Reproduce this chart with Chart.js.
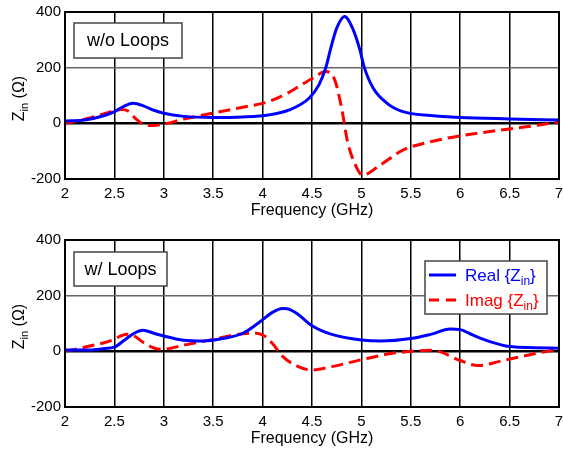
<!DOCTYPE html>
<html>
<head>
<meta charset="utf-8">
<script src="https://cdn.jsdelivr.net/npm/chart.js@4.4.1/dist/chart.umd.min.js"></script>
<style>
  html, body { margin: 0; padding: 0; background: #fff; }
  #wrap { position: relative; width: 563px; height: 451px; }
  canvas { position: absolute; left: 0; }
  #topChart { top: 0; }
  #botChart { top: 228px; }
</style>
</head>
<body>
<div id="wrap">
  <canvas id="topChart" width="563" height="223"></canvas>
  <canvas id="botChart" width="563" height="223"></canvas>
</div>
<script>
// Input impedance vs frequency, antenna without loops (top) and with loops (bottom)
const xTicks = [2, 2.5, 3, 3.5, 4, 4.5, 5, 5.5, 6, 6.5, 7];
const yTicks = [-200, 0, 200, 400];

// w/o Loops
const realTopFreq = [2, 2.2, 2.4, 2.5, 2.6, 2.69, 2.8, 2.9, 3.0, 3.2, 3.5, 3.8, 4.06, 4.27, 4.47, 4.57, 4.64, 4.69, 4.75, 4.83, 4.91, 4.98, 5.03, 5.12, 5.26, 5.42, 5.7, 6.0, 6.5, 7.0];
const realTop     = [8, 12, 28, 42, 62, 72, 62, 47, 36, 25, 21, 23, 30, 48, 90, 138, 200, 270, 342, 384, 342, 270, 200, 126, 72, 42, 28, 21, 16, 12];
const imagTopFreq = [2, 2.2, 2.4, 2.5, 2.57, 2.64, 2.72, 2.8, 2.88, 3.0, 3.2, 3.5, 3.8, 4.06, 4.25, 4.4, 4.52, 4.64, 4.73, 4.8, 4.86, 4.94, 5.01, 5.19, 5.42, 5.7, 6.0, 6.5, 6.8, 7.0];
const imagTop     = [0, 15, 35, 45, 50, 44, 15, -4, -8, -3, 15, 37, 58, 78, 108, 140, 165, 186, 156, 54, -66, -150, -186, -150, -96, -66, -45, -20, -6, 5];

// w/ Loops
const realBotFreq = [2, 2.25, 2.4, 2.5, 2.6, 2.7, 2.79, 2.9, 3.0, 3.2, 3.4, 3.6, 3.8, 3.95, 4.1, 4.2, 4.25, 4.35, 4.5, 4.7, 5.0, 5.2, 5.5, 5.7, 5.9, 6.0, 6.13, 6.3, 6.5, 6.75, 7.0];
const realBot     = [5, 5, 10, 15, 40, 65, 76, 65, 55, 40, 37, 46, 65, 100, 140, 154, 153, 135, 92, 61, 41, 37, 46, 61, 80, 78, 58, 35, 17, 13, 11];
const imagBotFreq = [2, 2.25, 2.5, 2.56, 2.63, 2.69, 2.8, 2.9, 2.98, 3.2, 3.5, 3.7, 3.82, 3.92, 4.02, 4.1, 4.2, 4.35, 4.5, 4.7, 5.0, 5.3, 5.5, 5.7, 5.8, 6.0, 6.18, 6.4, 6.5, 6.75, 7.0];
const imagBot     = [0, 19, 43, 55, 61, 57, 30, 12, 7, 22, 43, 58, 64, 66, 55, 28, -17, -53, -67, -55, -30, -8, 0, 4, -2, -33, -51, -36, -28, -9, 8];

const FONT = 'Arial, "Liberation Sans", Helvetica, sans-serif';
const BLUE = '#0000ff';
const RED = '#ff0000';

function pts(xs, ys) {
    return xs.map((x, i) => ({ x: x, y: ys[i] }));
}

// text with a subscript, e.g. Z_in ; returns width
function drawSub(ctx, x, y, base, sub, tail, size, subSize, measureOnly) {
    ctx.font = size + 'px ' + FONT;
    const w1 = ctx.measureText(base).width;
    const w3 = ctx.measureText(tail).width;
    ctx.font = subSize + 'px ' + FONT;
    const w2 = ctx.measureText(sub).width;
    if (!measureOnly) {
        ctx.textBaseline = 'alphabetic';
        ctx.textAlign = 'left';
        ctx.font = size + 'px ' + FONT;
        ctx.fillText(base, x, y);
        ctx.font = subSize + 'px ' + FONT;
        ctx.fillText(sub, x + w1, y + size * 0.22);
        ctx.font = size + 'px ' + FONT;
        ctx.fillText(tail, x + w1 + w2, y);
    }
    return w1 + w2 + w3;
}

const decorPlugin = {
    id: 'decor',
    afterDraw(chart, args, opts) {
        const ctx = chart.ctx;
        const a = chart.chartArea;
        ctx.save();
        // frame
        ctx.strokeStyle = '#000';
        ctx.lineWidth = 2;
        ctx.strokeRect(a.left, a.top, a.right - a.left, a.bottom - a.top);

        // y title: Z_in (Ω)
        ctx.fillStyle = '#000';
        ctx.translate(24, (a.top + a.bottom) / 2 + 3);
        ctx.rotate(-Math.PI / 2);
        const w = drawSub(ctx, 0, 0, 'Z', 'in', ' (\u03A9)', 16, 11, true);
        drawSub(ctx, -w / 2, 0, 'Z', 'in', ' (\u03A9)', 16, 11, false);
        ctx.setTransform(1, 0, 0, 1, 0, 0);

        // panel tag
        const b = opts.tag;
        ctx.fillStyle = '#fff';
        ctx.fillRect(b.x, b.y, b.w, b.h);
        ctx.strokeStyle = '#444';
        ctx.lineWidth = 1.5;
        ctx.strokeRect(b.x, b.y, b.w, b.h);
        ctx.fillStyle = '#000';
        ctx.font = '18px ' + FONT;
        ctx.textAlign = 'center';
        ctx.textBaseline = 'middle';
        ctx.fillText(b.text, b.x + b.w / 2, b.y + b.h / 2 + 1);

        // legend
        if (opts.legend) {
            const L = opts.legend;
            ctx.fillStyle = '#fff';
            ctx.fillRect(L.x, L.y, L.w, L.h);
            ctx.strokeStyle = '#444';
            ctx.lineWidth = 1.5;
            ctx.strokeRect(L.x, L.y, L.w, L.h);
            const rows = [
                { color: BLUE, dash: [], label: 'Real {Z', y: L.y + 14 },
                { color: RED, dash: [10, 7], label: 'Imag {Z', y: L.y + 39 }
            ];
            rows.forEach(r => {
                ctx.strokeStyle = r.color;
                ctx.lineWidth = 3;
                ctx.setLineDash(r.dash);
                ctx.beginPath();
                ctx.moveTo(L.x + 4, r.y);
                ctx.lineTo(L.x + 31, r.y);
                ctx.stroke();
                ctx.setLineDash([]);
                ctx.fillStyle = r.color;
                drawSub(ctx, L.x + 40, r.y + 6, r.label, 'in', '}', 17, 12, false);
            });
        }
        ctx.restore();
    }
};

function makeChart(id, real, realX, imag, imagX, tag, legend) {
    return new Chart(document.getElementById(id), {
        type: 'line',
        data: {
            datasets: [
                { data: pts(realX, real), borderColor: BLUE, borderWidth: 3, pointRadius: 0, cubicInterpolationMode: 'monotone' },
                { data: pts(imagX, imag), borderColor: RED, borderWidth: 3, borderDash: [12, 6], pointRadius: 0, cubicInterpolationMode: 'monotone' }
            ]
        },
        options: {
            responsive: false,
            animation: false,
            layout: { padding: { left: 0, right: 4, top: 12, bottom: 0 } },
            plugins: {
                legend: { display: false },
                tooltip: { enabled: false },
                decor: { tag: tag, legend: legend }
            },
            scales: {
                x: {
                    type: 'linear',
                    min: 2, max: 7,
                    afterBuildTicks: s => { s.ticks = xTicks.map(v => ({ value: v })); },
                    afterFit: s => { s.height = 44; s.paddingLeft = 0; s.paddingRight = 0; },
                    ticks: { color: '#000', font: { family: FONT, size: 15 }, padding: 6, maxRotation: 0, autoSkip: false, callback: v => String(v) },
                    grid: { color: '#000', lineWidth: 1.5, drawTicks: false },
                    border: { display: false },
                    title: { display: true, text: 'Frequency (GHz)', color: '#000', font: { family: FONT, size: 16 }, padding: { top: 0, bottom: 3 } }
                },
                y: {
                    min: -200, max: 400,
                    afterBuildTicks: s => { s.ticks = yTicks.map(v => ({ value: v })); },
                    afterFit: s => { s.width = 65; s.paddingTop = 0; s.paddingBottom = 0; },
                    ticks: { color: '#000', font: { family: FONT, size: 15 }, padding: 4, callback: v => String(v) },
                    grid: {
                        color: c => (c.tick && c.tick.value === 200) ? '#666' : '#000',
                        lineWidth: c => (c.tick && c.tick.value === 0) ? 2.5 : 1.5,
                        drawTicks: false
                    },
                    border: { display: false }
                }
            }
        },
        plugins: [decorPlugin]
    });
}

makeChart('topChart', realTop, realTopFreq, imagTop, imagTopFreq,
    { x: 74, y: 23, w: 108, h: 35, text: 'w/o Loops' }, null);
makeChart('botChart', realBot, realBotFreq, imagBot, imagBotFreq,
    { x: 74, y: 24, w: 93, h: 34, text: 'w/ Loops' },
    { x: 425, y: 33, w: 122, h: 53 });
</script>
</body>
</html>
